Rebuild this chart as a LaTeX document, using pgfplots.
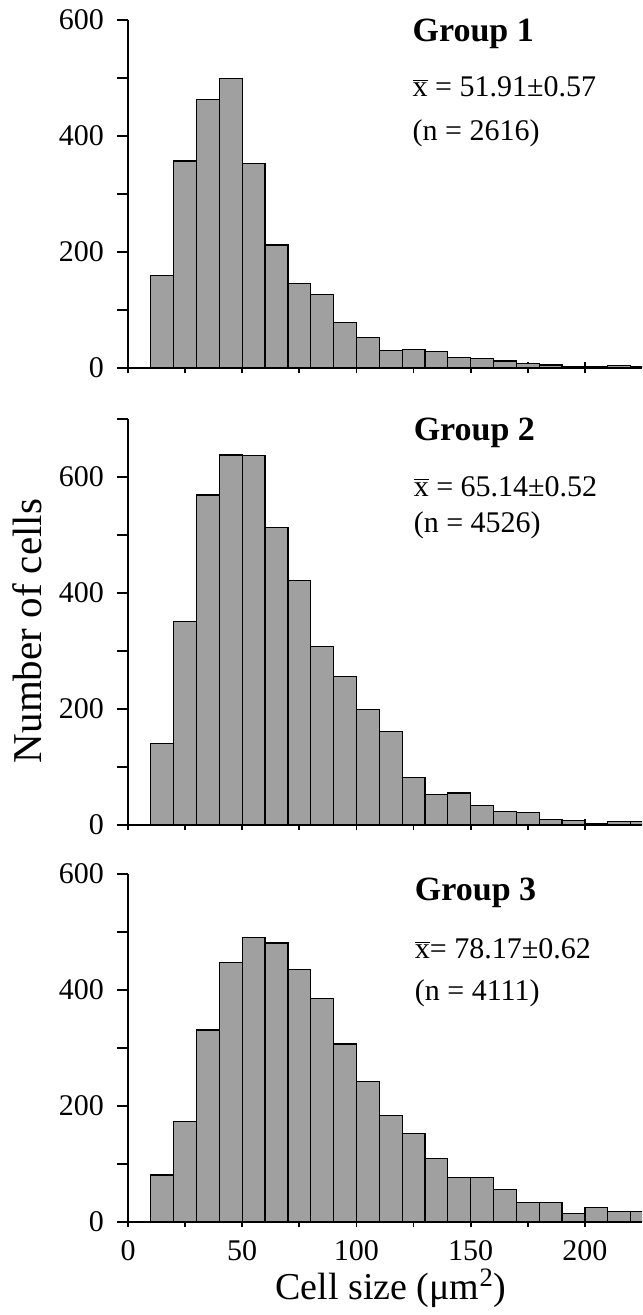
\documentclass[border=0pt]{standalone}
\usepackage{fontspec}
\setmainfont{Liberation Serif}
\usepackage{pgfplots}
\usepackage{pgfplotstable}
\pgfplotsset{compat=1.18}
\definecolor{barfill}{RGB}{160,160,160}

\pgfplotstableread{
x y
10 159
20 357
30 463
40 499
50 352
60 212
70 146
80 127
90 78
100 52
110 30
120 32
130 28
140 18
150 17
160 12
170 7.5
180 5
190 3
200 2
210 4
220 3
230 0
}\gone

\pgfplotstableread{
x y
10 141
20 351
30 569
40 638
50 637
60 513
70 421
80 308
90 256
100 199
110 161
120 82
130 52
140 55
150 34
160 23
170 21
180 9
190 7.5
200 2
210 6
220 6
230 0
}\gtwo

\pgfplotstableread{
x y
10 81
20 173
30 331
40 448
50 490
60 481
70 436
80 386
90 307
100 242
110 183
120 153
130 110
140 77
150 77
160 56
170 33
180 33
190 15
200 25
210 18
220 18
230 0
}\gthree

\pgfplotsset{
  hist/.style={
    scale only axis, width=257pt,
    xmin=0, xmax=225, ymin=0,
    axis x line=bottom, axis y line=left,
    axis line style={-, line width=1pt, black},
    clip mode=individual,
    xtick={0,25,...,200},
    xtick align=center, ytick align=outside,
    major tick length=5.5pt,
    tick style={line width=0.9pt, black},
    /pgf/number format/assume math mode=true,
    tick label style={font=\fontsize{15}{15}\selectfont},
    yticklabel style={xshift=-3pt},
    xticklabel style={yshift=-3pt},
  },
  bars/.style={ybar interval, fill=barfill, draw=black, line width=0.6pt},
}
\tikzset{
  grp/.style={anchor=base west, font=\bfseries\fontsize{17}{17}\selectfont},
  stat/.style={anchor=base west, font=\fontsize{15}{15}\selectfont},
}

\begin{document}
\begin{tikzpicture}
\useasboundingbox (0,0) rectangle (321pt,657.5pt);

% Panel 1
\begin{axis}[hist, at={(64pt,473.5pt)}, anchor=south west,
  height=174pt, ymax=600,
  ytick={0,100,...,600}, yticklabels={0,,200,,400,,600},
  xticklabels={}]
  \addplot[bars] table {\gone};
  \node[grp] at (axis cs:121.5,563) {Group 1};
  \node[stat] at (axis cs:121.5,468) {$\overline{\hbox{x}}$ = 51.91±0.57};
  \node[stat] at (axis cs:121.5,392) {(n = 2616)};
\end{axis}

% Panel 2
\begin{axis}[hist, at={(64pt,245pt)}, anchor=south west,
  height=203pt, ymax=700,
  ytick={0,100,...,700}, yticklabels={0,,200,,400,,600,},
  xticklabels={}]
  \addplot[bars] table {\gtwo};
  \node[grp] at (axis cs:122,663) {Group 2};
  \node[stat] at (axis cs:122,567) {$\overline{\hbox{x}}$ = 65.14±0.52};
  \node[stat] at (axis cs:122,505) {(n = 4526)};
\end{axis}

% Panel 3
\begin{axis}[hist, at={(64pt,46.5pt)}, anchor=south west,
  height=174pt, ymax=600,
  ytick={0,100,...,600}, yticklabels={0,,200,,400,,600},
  xticklabels={0,,50,,100,,150,,200}]
  \addplot[bars] table {\gthree};
  \node[grp] at (axis cs:122.5,555) {Group 3};
  \node[stat] at (axis cs:122.5,454) {$\overline{\hbox{x}}$= 78.17±0.62};
  \node[stat] at (axis cs:122.5,382) {(n = 4111)};
\end{axis}

\node[rotate=90, font=\fontsize{20.5}{20.5}\selectfont] at (13.75pt,342pt) {Number of cells};
\node[anchor=base, font=\fontsize{19}{19}\selectfont] at (195.5pt,8pt) {Cell size (μm\textsuperscript{2})};
\end{tikzpicture}
\end{document}
